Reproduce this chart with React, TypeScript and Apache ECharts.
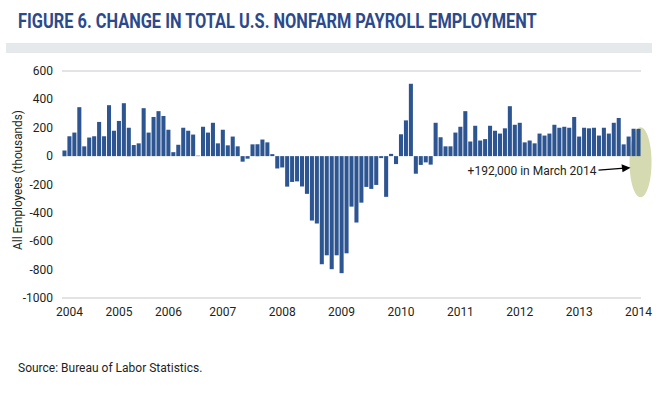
import React, { useEffect, useRef } from "react";
import * as echarts from "echarts";

// Monthly change in total nonfarm payroll employment (thousands), Jul 2004 - Mar 2014
const startYear = 2004;
const startMonth = 7;
const values2004 = [40, 140, 166, 345, 69, 131];
const values2005 = [140, 241, 140, 359, 179, 248, 373, 200, 78, 90, 338, 166];
const values2006 = [276, 317, 283, 186, 28, 80, 200, 179, 152, 3, 207, 166];
const values2007 = [235, 90, 186, 76, 138, 69, -39, -18, 83, 83, 117, 97];
const values2008 = [14, -87, -80, -215, -182, -178, -214, -266, -454, -475, -762, -699];
const values2009 = [-797, -699, -825, -685, -356, -468, -328, -217, -231, -203, -14, -287];
const values2010 = [16, -56, 154, 252, 510, -124, -62, -44, -60, 235, 133, 69];
const values2011 = [69, 166, 207, 317, 103, 214, 110, 120, 214, 179, 159, 196];
const values2012 = [352, 221, 235, 97, 110, 90, 159, 145, 159, 221, 200, 207];
const values2013 = [200, 276, 138, 200, 196, 200, 145, 200, 159, 235, 269, 83];
const values2014 = [138, 193, 192];

const yMin = -1000;
const yMax = 600;
const yInterval = 200;

// year tick labels and the month (category index) each is shown under
const yearLabels = ["2004", "2005", "2006", "2007", "2008", "2009", "2010", "2011", "2012", "2013", "2014"];
const yearLabelIndex = [1, 11, 21, 32, 44, 56, 68, 80, 92, 104, 116];

const titleText = "FIGURE 6. CHANGE IN TOTAL U.S. NONFARM PAYROLL EMPLOYMENT";
const yAxisTitle = "All Employees (thousands)";
const annotationText = "+192,000 in March 2014";
const sourceText = "Source: Bureau of Labor Statistics.";

const values = [
  ...values2004, ...values2005, ...values2006, ...values2007, ...values2008,
  ...values2009, ...values2010, ...values2011, ...values2012, ...values2013, ...values2014,
];

const categories: string[] = values.map((_, i) => {
  const m = startMonth - 1 + i;
  const y = startYear + Math.floor(m / 12);
  const mm = (m % 12) + 1;
  return `${y}-${mm < 10 ? "0" + mm : mm}`;
});

const BAR = "#2d5591";
const TXT = "#231f20";
const FONT = "Roboto, 'Noto Sans', sans-serif";

function measure(text: string, font: string): number {
  const c = document.createElement("canvas").getContext("2d");
  if (!c) return text.length * 8;
  c.font = font;
  return c.measureText(text).width;
}

export default function App() {
  const ref = useRef<HTMLDivElement>(null);
  useEffect(() => {
    if (!ref.current) return;
    const chart = echarts.init(ref.current, null, { renderer: "svg" });
    const titleFont = "bold 21px Roboto";
    const titleScale = 519 / measure(titleText, titleFont);
    const nameFont = "12px Roboto";
    const nameScale = Math.min(1, 140 / measure(yAxisTitle, nameFont));

    chart.setOption({
      animation: false,
      backgroundColor: "#ffffff",
      grid: {
        left: 62,
        right: 25,
        top: 71,
        bottom: 96,
        containLabel: false,
        outerBoundsMode: "none",
      },
      xAxis: {
        type: "category",
        data: categories,
        boundaryGap: true,
        axisLine: { show: false, onZero: false },
        axisTick: { show: false },
        splitLine: { show: false },
        axisLabel: {
          interval: (idx: number) => yearLabelIndex.includes(idx),
          formatter: (_v: string, idx: number) => {
            const k = yearLabelIndex.indexOf(idx);
            return k >= 0 ? yearLabels[k] : "";
          },
          margin: 8,
          color: TXT,
          fontSize: 12,
          fontFamily: FONT,
        },
      },
      yAxis: {
        type: "value",
        min: yMin,
        max: yMax,
        interval: yInterval,
        axisLine: { show: false },
        axisTick: { show: false },
        splitLine: { show: false },
        axisLabel: {
          color: TXT,
          fontSize: 12,
          fontFamily: FONT,
          margin: 9,
          formatter: (v: number) => String(v),
        },
      },
      series: [
        {
          type: "bar",
          data: values,
          barCategoryGap: "18%",
          itemStyle: { color: BAR },
          zlevel: 1,
          z: 2,
          markLine: {
            silent: true,
            symbol: "none",
            label: { show: false },
            lineStyle: { color: "#d7dade", width: 1.5, type: "solid" },
            data: [{ yAxis: yMax }, { yAxis: yMin }],
          },
        },
      ],
    });

    const last = values.length - 1;
    const p = chart.convertToPixel({ xAxisIndex: 0, yAxisIndex: 0 }, [last, 0]) as number[];
    const bx = p[0];
    const y0 = p[1];
    const cx = bx + 2;
    const cy = y0 + 6;

    chart.setOption({
      graphic: [
        {
          type: "ellipse",
          zlevel: 0,
          z: 0,
          shape: { cx, cy, rx: 11, ry: 35 },
          style: { fill: "#d6dab0" },
        },
        {
          type: "text",
          zlevel: 2,
          x: 18,
          y: 21,
          scaleX: titleScale,
          style: {
            text: titleText,
            font: titleFont,
            fill: "#2c4a8b",
            verticalAlign: "middle",
            align: "left",
          },
        },
        {
          type: "rect",
          zlevel: 2,
          shape: { x: 6, y: 43, width: 646, height: 10 },
          style: { fill: "#e6e9ec" },
        },
        {
          type: "text",
          zlevel: 2,
          x: 18,
          y: 180,
          rotation: Math.PI / 2,
          scaleX: nameScale,
          style: {
            text: yAxisTitle,
            font: nameFont,
            fill: TXT,
            align: "center",
            verticalAlign: "middle",
          },
        },
        {
          type: "text",
          zlevel: 2,
          x: cx - 44,
          y: y0 + 15,
          style: {
            text: annotationText,
            fontSize: 12,
            fontFamily: FONT,
            fill: TXT,
            align: "right",
            verticalAlign: "middle",
          },
        },
        {
          type: "line",
          zlevel: 2,
          shape: { x1: cx - 42, y1: y0 + 14, x2: cx - 16, y2: y0 + 12 },
          style: { stroke: "#000", lineWidth: 1.2 },
        },
        {
          type: "polygon",
          zlevel: 2,
          shape: {
            points: [
              [cx - 10, y0 + 11.5],
              [cx - 19, y0 + 8],
              [cx - 18, y0 + 16],
            ],
          },
          style: { fill: "#000" },
        },
        {
          type: "text",
          zlevel: 2,
          x: 18,
          y: 368,
          style: {
            text: sourceText,
            fontSize: 12,
            fontFamily: FONT,
            fill: TXT,
            verticalAlign: "middle",
          },
        },
      ],
    });

    return () => chart.dispose();
  }, []);
  return (
    <div
      ref={ref}
      style={{ position: "fixed", left: 0, top: 0, width: 666, height: 394, background: "#fff" }}
    />
  );
}
